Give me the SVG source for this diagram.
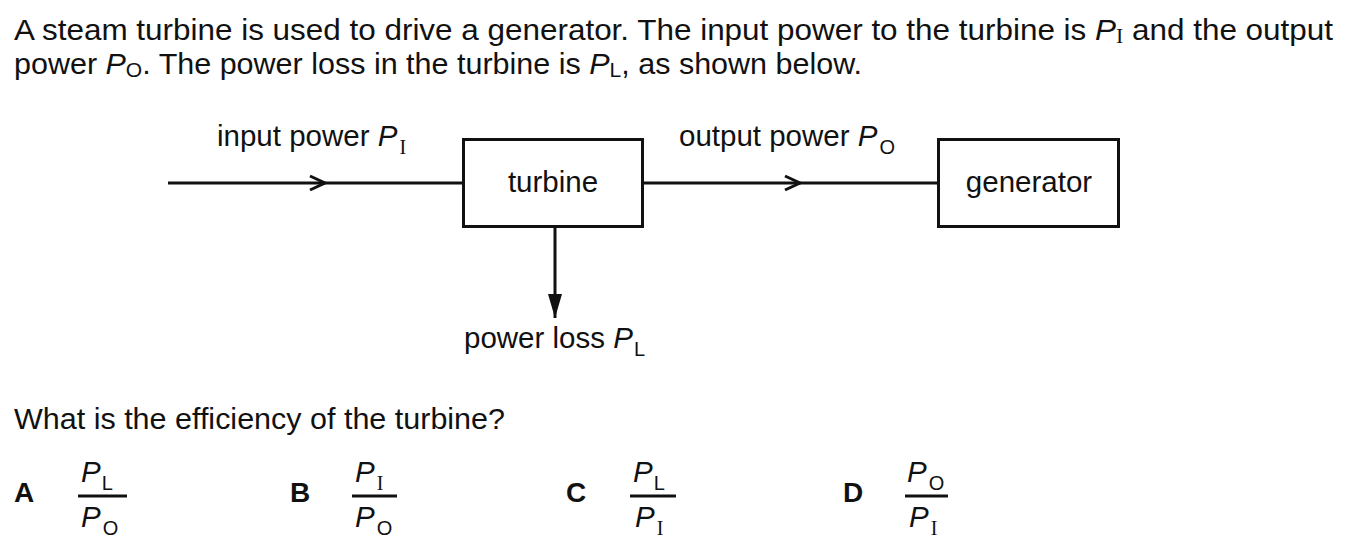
<svg xmlns="http://www.w3.org/2000/svg" width="1348" height="550" viewBox="0 0 1348 550">
<style>
text{font-family:"Liberation Sans",Arial,sans-serif;fill:#111}
.t{font-size:29px}
.l{font-size:29.5px}
.i{font-style:italic}
.s{font-family:"Liberation Serif","Times New Roman",serif;font-style:normal}
.b{font-weight:bold;font-size:28px}
.box{fill:#fff;stroke:#111;stroke-width:3}
.ln{stroke:#111;stroke-width:3;fill:none}
</style>
<defs>
<marker id="fill" markerWidth="24" markerHeight="14" refX="24" refY="7" orient="auto" markerUnits="userSpaceOnUse" viewBox="0 0 24 14">
<path d="M0,0 L24,7 L0,14 Z" fill="#111"/>
</marker>
</defs>
<rect width="1348" height="550" fill="#fff"/>
<text class="t" x="14" y="40" textLength="1319" lengthAdjust="spacingAndGlyphs">A steam turbine is used to drive a generator. The input power to the turbine is <tspan class="i">P</tspan><tspan class="s" font-size="20" dy="3">I</tspan><tspan dy="-3"> and the output</tspan></text>
<text class="t" x="14" y="74" textLength="848" lengthAdjust="spacingAndGlyphs">power <tspan class="i">P</tspan><tspan font-size="20" dy="3">O</tspan><tspan dy="-3">. The power loss in the turbine is </tspan><tspan class="i">P</tspan><tspan font-size="20" dy="3">L</tspan><tspan dy="-3">, as shown below.</tspan></text>
<g id="connectors">
<line class="ln" x1="168" y1="183" x2="463" y2="183"/>
<path class="ln" d="M310,176 L325,183 L310,190"/>
<line class="ln" x1="643" y1="183" x2="938" y2="183"/>
<path class="ln" d="M785,176 L800,183 L785,190"/>
<line class="ln" x1="555" y1="227" x2="555" y2="318" marker-end="url(#fill)"/>
</g>
<g id="turbine">
<rect class="box" x="463.5" y="139.5" width="179" height="87"/>
<text class="l" x="553" y="192" text-anchor="middle">turbine</text>
</g>
<g id="generator">
<rect class="box" x="938.5" y="139.5" width="180" height="87"/>
<text class="l" x="1029" y="192" text-anchor="middle">generator</text>
</g>
<g id="labels">
<text class="l" x="217" y="146">input power <tspan class="i">P</tspan><tspan class="s" font-size="20" dx="2" dy="8">I</tspan></text>
<text class="l" x="679" y="146">output power <tspan class="i">P</tspan><tspan font-size="20" dx="2" dy="8">O</tspan></text>
<text class="l" x="464" y="348">power loss <tspan class="i">P</tspan><tspan font-size="20" dx="1" dy="8">L</tspan></text>
</g>
<text class="t" x="14" y="429" textLength="491" lengthAdjust="spacingAndGlyphs">What is the efficiency of the turbine?</text>
<g id="options">
<text class="b" x="14" y="502">A</text>
<text class="l" x="81" y="482"><tspan class="i">P</tspan><tspan font-size="20" dx="1" dy="8">L</tspan></text>
<line class="ln" stroke-width="2" x1="78" y1="496" x2="127" y2="496"/>
<text class="l" x="81" y="527"><tspan class="i">P</tspan><tspan font-size="20" dx="2" dy="8">O</tspan></text>

<text class="b" x="290" y="502">B</text>
<text class="l" x="355" y="482"><tspan class="i">P</tspan><tspan class="s" font-size="20" dx="2" dy="8">I</tspan></text>
<line class="ln" stroke-width="2" x1="352" y1="496" x2="397" y2="496"/>
<text class="l" x="355" y="527"><tspan class="i">P</tspan><tspan font-size="20" dx="2" dy="8">O</tspan></text>

<text class="b" x="566" y="502">C</text>
<text class="l" x="633" y="482"><tspan class="i">P</tspan><tspan font-size="20" dx="1" dy="8">L</tspan></text>
<line class="ln" stroke-width="2" x1="630" y1="496" x2="676" y2="496"/>
<text class="l" x="635" y="527"><tspan class="i">P</tspan><tspan class="s" font-size="20" dx="2" dy="8">I</tspan></text>

<text class="b" x="843" y="502">D</text>
<text class="l" x="907" y="482"><tspan class="i">P</tspan><tspan font-size="20" dx="2" dy="8">O</tspan></text>
<line class="ln" stroke-width="2" x1="905" y1="496" x2="948" y2="496"/>
<text class="l" x="909" y="527"><tspan class="i">P</tspan><tspan class="s" font-size="20" dx="2" dy="8">I</tspan></text>
</g>
</svg>
